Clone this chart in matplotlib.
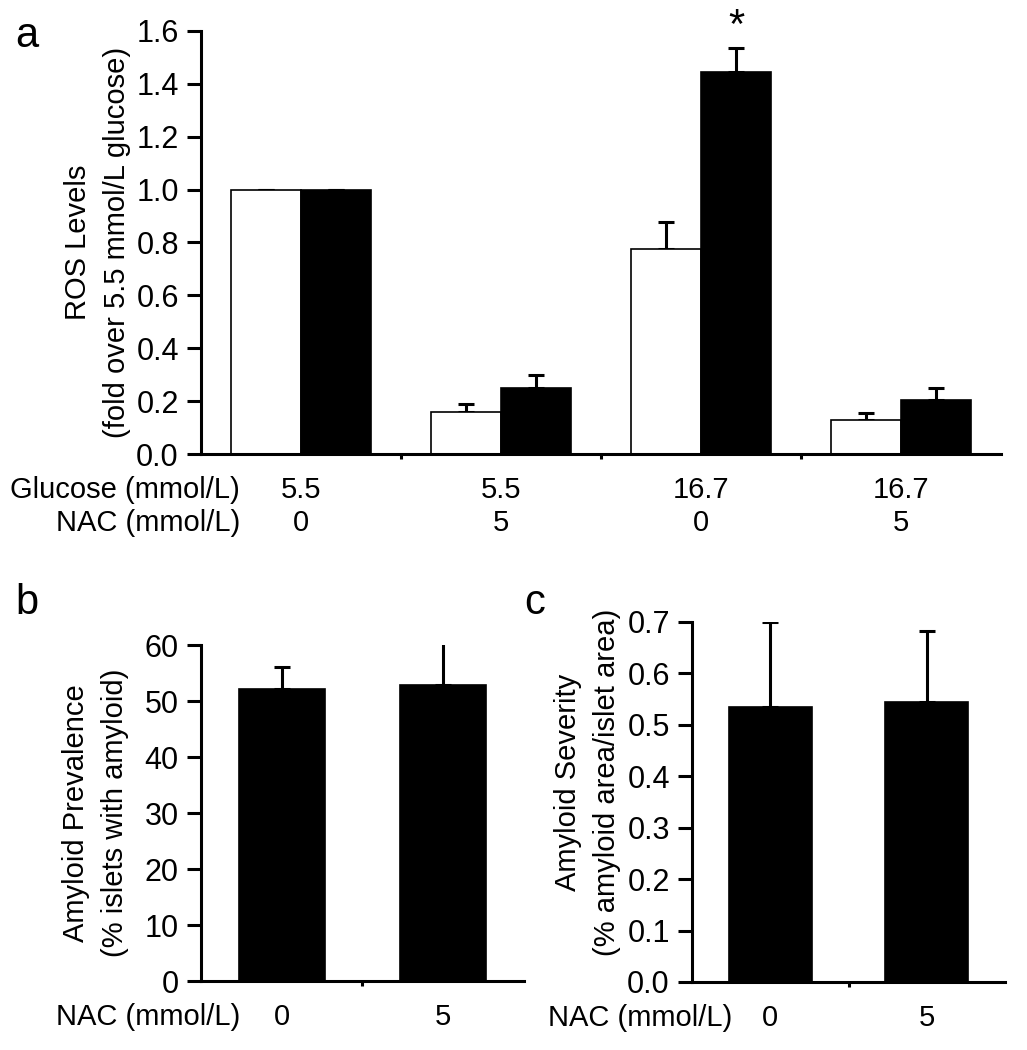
import numpy as np
import matplotlib
matplotlib.use('Agg')
import matplotlib.pyplot as plt

# panel a: ROS levels, two series per condition
glucose = ['5.5', '5.5', '16.7', '16.7']
nac_a = ['0', '5', '0', '5']
ros_white = [1.0, 0.16, 0.776, 0.13]
ros_white_err = [0.0, 0.03, 0.10, 0.025]
ros_black = [1.0, 0.25, 1.445, 0.206]
ros_black_err = [0.0, 0.05, 0.09, 0.045]

# panel b: amyloid prevalence
nac_b = ['0', '5']
prevalence = [52.2, 52.8]
prevalence_err = [3.9, 7.8]

# panel c: amyloid severity
severity = [0.534, 0.544]
severity_err = [0.165, 0.139]

plt.rcParams['font.family'] = ['Liberation Sans', 'DejaVu Sans']
plt.rcParams['font.size'] = 21

SPINE = 2.2
FS = 21


def style_axes(ax):
  for s in ['top', 'right']:
    ax.spines[s].set_visible(False)
  for s in ['left', 'bottom']:
    ax.spines[s].set_linewidth(SPINE)
  ax.tick_params(axis='y', direction='out', length=10, width=SPINE, labelsize=22, pad=6)
  ax.tick_params(axis='x', direction='out', length=3.5, width=SPINE, labelbottom=False)


def upper_err(ax, x, y, err, capsize=6):
  ax.errorbar(x, y, yerr=[np.zeros(len(err)), err], fmt='none', ecolor='black',
              elinewidth=2.2, capsize=capsize, capthick=2.2, zorder=1)


fig = plt.figure(figsize=(10.27, 10.5), dpi=100)

# ---- panel a
ax = fig.add_axes([0.1957, 0.5676, 0.779, 0.4029])
style_axes(ax)
n = len(glucose)
centers = np.arange(n) + 0.5
w = 0.35
upper_err(ax, centers - w / 2, ros_white, ros_white_err)
upper_err(ax, centers + w / 2, ros_black, ros_black_err)
ax.bar(centers - w / 2, ros_white, w, color='white', edgecolor='black', linewidth=1.2, zorder=2)
ax.bar(centers + w / 2, ros_black, w, color='black', edgecolor='black', linewidth=1.2, zorder=2)
ax.set_xlim(0, n)
ax.set_ylim(0, 1.6)
ax.set_xticks(np.arange(1, n))
ax.set_yticks(np.arange(0, 1.61, 0.2))
ax.set_yticklabels(['%.1f' % v for v in np.arange(0, 1.61, 0.2)])
ax.set_ylabel('ROS Levels\n(fold over 5.5 mmol/L glucose)', fontsize=FS, linespacing=1.5)
ax.yaxis.set_label_coords(-0.088, 0.5)
ax.text(centers[2] + w / 2, 1.615, '*', ha='center', va='center', fontsize=30, clip_on=False)
tr = ax.get_xaxis_transform()
for i in range(n):
  ax.text(centers[i], -0.085, glucose[i], transform=tr, ha='center', va='center', fontsize=FS)
  ax.text(centers[i], -0.163, nac_a[i], transform=tr, ha='center', va='center', fontsize=FS)
ax.text(0.049, -0.085, 'Glucose (mmol/L)', transform=ax.transAxes, ha='right', va='center', fontsize=FS)
ax.text(0.049, -0.163, 'NAC (mmol/L)', transform=ax.transAxes, ha='right', va='center', fontsize=FS)


def small_panel(rect, vals, errs, ylim, yticks, fmt, ylabel, label_y, row_y, head_x):
  ax = fig.add_axes(rect)
  style_axes(ax)
  pos = np.arange(len(vals)) + 0.5
  upper_err(ax, pos, vals, errs)
  ax.bar(pos, vals, 0.53, color='black', edgecolor='black', linewidth=1.2, zorder=2)
  ax.set_xlim(0, len(vals))
  ax.set_ylim(*ylim)
  ax.set_xticks(np.arange(1, len(vals)))
  ax.set_yticks(yticks)
  ax.set_yticklabels([fmt % v for v in yticks])
  ax.set_ylabel(ylabel, fontsize=FS, linespacing=1.5)
  ax.yaxis.set_label_coords(label_y[0], label_y[1])
  tr = ax.get_xaxis_transform()
  for i in range(len(vals)):
    ax.text(pos[i], row_y, nac_b[i], transform=tr, ha='center', va='center', fontsize=FS)
  ax.text(head_x, row_y, 'NAC (mmol/L)', transform=ax.transAxes, ha='right', va='center', fontsize=FS)
  return ax


small_panel([0.1957, 0.0657, 0.3145, 0.32], prevalence, prevalence_err, (0, 60),
            np.arange(0, 61, 10), '%d', 'Amyloid Prevalence\n(% islets with amyloid)',
            (-0.222, 0.5), -0.107, 0.121)
small_panel([0.6738, 0.0648, 0.3048, 0.3429], severity, severity_err, (0, 0.7),
            np.round(np.arange(0, 0.71, 0.1), 1), '%.1f', 'Amyloid Severity\n(% amyloid area/islet area)',
            (-0.226, 0.553), -0.1, 0.128)

fig.text(27 / 1027, 1 - 36 / 1050, 'a', fontsize=30, ha='center', va='center')
fig.text(27 / 1027, 1 - 603 / 1050, 'b', fontsize=30, ha='center', va='center')
fig.text(535 / 1027, 1 - 603 / 1050, 'c', fontsize=30, ha='center', va='center')

fig.savefig('out.png', dpi=100, facecolor='white')
